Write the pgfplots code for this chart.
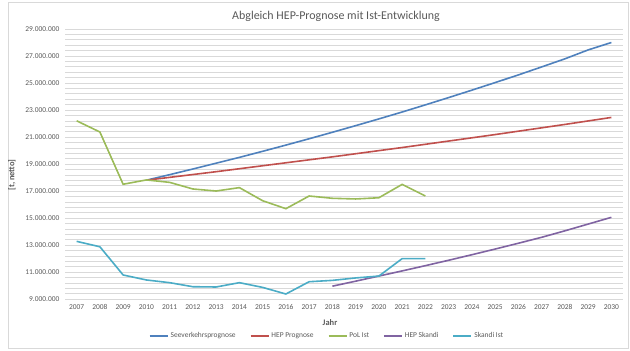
\documentclass[border=0pt]{standalone}
\usepackage{fontspec}
\setmainfont{Carlito}
\usepackage{pgfplots}
\pgfplotsset{compat=1.18}
\usepackage{pgfplotstable}
\definecolor{cBlue}{HTML}{4F81BD}
\definecolor{cRed}{HTML}{C0504D}
\definecolor{cGreen}{HTML}{9BBB59}
\definecolor{cPurple}{HTML}{8064A2}
\definecolor{cCyan}{HTML}{4BACC6}
\definecolor{cText}{HTML}{595959}
\definecolor{cGrid}{HTML}{D9D9D9}

\pgfplotstableread{
year value
2010 17800000
2011 18210000
2012 18630000
2013 19060000
2014 19490000
2015 19940000
2016 20400000
2017 20870000
2018 21350000
2019 21840000
2020 22340000
2021 22850000
2022 23380000
2023 23920000
2024 24470000
2025 25030000
2026 25600000
2027 26190000
2028 26790000
2029 27450000
2030 28000000
}\seeverkehr

\pgfplotstableread{
year value
2010 17800000
2011 18010000
2012 18220000
2013 18430000
2014 18650000
2015 18870000
2016 19090000
2017 19310000
2018 19530000
2019 19760000
2020 19990000
2021 20220000
2022 20460000
2023 20700000
2024 20940000
2025 21180000
2026 21430000
2027 21680000
2028 21930000
2029 22190000
2030 22450000
}\hepprognose

\pgfplotstableread{
year value
2007 22200000
2008 21370000
2009 17500000
2010 17820000
2011 17640000
2012 17150000
2013 17000000
2014 17250000
2015 16280000
2016 15690000
2017 16630000
2018 16460000
2019 16410000
2020 16500000
2021 17490000
2022 16630000
}\polist

\pgfplotstableread{
year value
2018 9950000
2019 10320000
2020 10700000
2021 11080000
2022 11470000
2023 11870000
2024 12280000
2025 12700000
2026 13130000
2027 13570000
2028 14050000
2029 14550000
2030 15050000
}\hepskandi

\pgfplotstableread{
year value
2007 13270000
2008 12870000
2009 10780000
2010 10410000
2011 10210000
2012 9910000
2013 9890000
2014 10210000
2015 9860000
2016 9370000
2017 10280000
2018 10380000
2019 10560000
2020 10700000
2021 11990000
2022 11990000
}\skandiist

\begin{document}
\begin{tikzpicture}[x=1bp,y=1bp]
\useasboundingbox (0,0) rectangle (630,350);
\draw[cGrid, line width=0.5bp] (8,2) rectangle (628,348);
\node[text=cText, font=\fontsize{12}{14}\selectfont] at (336,334) {Abgleich HEP-Prognose mit Ist-Entwicklung};
\node[text=cText, font=\bfseries\fontsize{8.5}{10}\selectfont] at (330,27) {Jahr};
\node[text=cText, font=\bfseries\fontsize{8.5}{10}\selectfont, rotate=90] at (12,175) {[t, netto]};
\begin{axis}[
  at={(65bp,51bp)}, anchor=south west,
  scale only axis, width=558bp, height=270bp,
  xmin=2006.5, xmax=2030.5,
  ymin=9000000, ymax=29000000,
  axis line style={draw=none},
  xtick={2007,2008,...,2030},
  ytick={9000000,11000000,...,29000000},
  minor y tick num=4,
  ymajorgrids, yminorgrids,
  major grid style={cGrid, line width=0.6bp},
  minor grid style={cGrid, line width=0.6bp},
  major tick length=0pt, minor tick length=0pt,
  scaled y ticks=false,
  x tick label style={/pgf/number format/1000 sep={}, text=cText, font=\fontsize{7.5}{9}\selectfont},
  y tick label style={/pgf/number format/.cd, fixed, precision=0, 1000 sep={.}, /tikz/.cd, text=cText, font=\fontsize{7.5}{9}\selectfont},
  /pgf/number format/assume math mode=true,
  xticklabel style={yshift=-2bp},
  yticklabel style={xshift=-2bp},
  legend columns=-1,
  legend style={at={(0.4695,-0.137)}, anchor=center, draw=none, fill=none,
    font=\fontsize{7.5}{9}\selectfont, text=cText,
    /tikz/every even column/.append style={column sep=12bp}},
  legend image code/.code={\draw[#1, line width=1.8bp] (0bp,0bp) -- (18bp,0bp);},
  every axis plot/.append style={line width=1.6bp},
]
\addplot[cBlue, mark=none] table[x=year, y=value] {\seeverkehr};
\addlegendentry{Seeverkehrsprognose}
\addplot[cRed, mark=none] table[x=year, y=value] {\hepprognose};
\addlegendentry{HEP Prognose}
\addplot[cGreen, mark=none] table[x=year, y=value] {\polist};
\addlegendentry{PoL Ist}
\addplot[cPurple, mark=none] table[x=year, y=value] {\hepskandi};
\addlegendentry{HEP Skandi}
\addplot[cCyan, mark=none] table[x=year, y=value] {\skandiist};
\addlegendentry{Skandi Ist}
\end{axis}
\end{tikzpicture}
\end{document}
